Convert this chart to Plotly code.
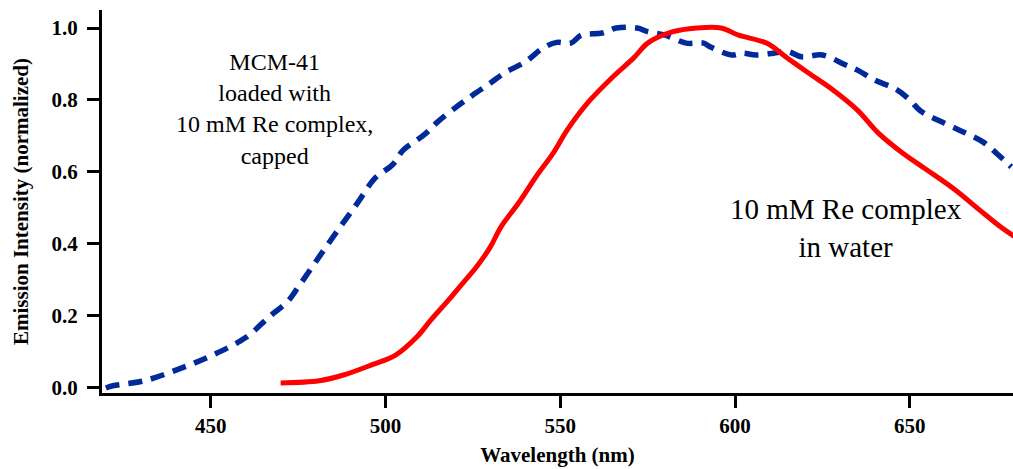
import plotly.graph_objects as go

# MCM-41 loaded with 10 mM Re complex, capped (blue, dashed)
mcm_x = [420, 422, 431, 441, 450, 460, 467, 472, 475, 481, 487, 492, 497, 502, 505, 511, 515, 521, 525, 530,
         534, 540, 545, 549, 553, 556, 562, 566, 572, 575, 580, 586, 591, 593, 599, 602, 606, 611, 615, 619,
         625, 631, 635, 640, 646, 650, 653, 660, 666, 671, 675, 679]
mcm_y = [0.0, 0.006, 0.02, 0.053, 0.089, 0.14, 0.2, 0.24, 0.28, 0.364, 0.447, 0.514, 0.583, 0.62, 0.66, 0.703,
         0.74, 0.786, 0.814, 0.847, 0.875, 0.906, 0.944, 0.96, 0.958, 0.98, 0.986, 1.0, 1.0, 0.99, 0.98, 0.958,
         0.958, 0.947, 0.925, 0.93, 0.925, 0.93, 0.935, 0.92, 0.925, 0.90, 0.883, 0.855, 0.83, 0.80, 0.77, 0.735,
         0.708, 0.683, 0.65, 0.614]

# 10 mM Re complex in water (red, solid)
water_x = [470, 481, 488, 496, 503, 509, 513, 518, 522, 526, 530, 533, 538, 543, 548, 552, 558, 565, 571, 575,
           582, 589, 596, 601, 609, 615, 621, 628, 635, 641, 648, 655, 663, 670, 676, 680]
water_y = [0.014, 0.02, 0.036, 0.064, 0.092, 0.142, 0.189, 0.244, 0.29, 0.336, 0.392, 0.447, 0.513, 0.586,
           0.653, 0.717, 0.794, 0.864, 0.917, 0.958, 0.989, 1.0, 1.0, 0.98, 0.958, 0.916, 0.875, 0.828, 0.772,
           0.708, 0.652, 0.605, 0.55, 0.494, 0.447, 0.42]

x_ticks = [450, 500, 550, 600, 650]
y_ticks = [0.0, 0.2, 0.4, 0.6, 0.8, 1.0]

FONT = "Liberation Serif"

fig = go.Figure()
fig.add_trace(go.Scatter(x=mcm_x, y=mcm_y, mode="lines", line_shape="spline",
                         line=dict(color="#00299a", width=5.5, dash="14px,9px"),
                         showlegend=False))
fig.add_trace(go.Scatter(x=water_x, y=water_y, mode="lines", line_shape="spline",
                         line=dict(color="#ff0000", width=5),
                         showlegend=False))

fig.add_annotation(x=468.3, y=0.775, xref="x", yref="y", showarrow=False,
                   text="MCM-41<br>loaded with<br>10 mM Re complex,<br>capped",
                   font=dict(family=FONT, size=24, color="black"), align="center")
fig.add_annotation(x=631.7, y=0.444, xref="x", yref="y", showarrow=False,
                   text="10 mM Re complex<br>in water",
                   font=dict(family=FONT, size=29, color="black"), align="center")

axis_common = dict(showline=True, linecolor="black", linewidth=3, ticks="outside",
                   ticklen=12, tickwidth=3, tickcolor="black", showgrid=False, zeroline=False,
                   tickfont=dict(family=FONT, size=21, color="black"))

fig.update_xaxes(range=[418.9, 679.5], tickvals=x_ticks, ticktext=["<b>%d</b>" % v for v in x_ticks],
                 title=dict(text="<b>Wavelength (nm)</b>", font=dict(family=FONT, size=21, color="black"),
                            standoff=11),
                 **axis_common)
fig.update_yaxes(range=[-0.014, 1.05], tickvals=y_ticks, ticktext=["<b>%.1f</b>" % v for v in y_ticks],
                 ticklabelstandoff=5,
                 title=dict(text="<b>Emission Intensity (normalized)</b>",
                            font=dict(family=FONT, size=21, color="black"), standoff=18),
                 **axis_common)

fig.update_layout(width=1013, height=469, margin=dict(l=102, r=0, t=10, b=76),
                  plot_bgcolor="white", paper_bgcolor="white")

fig.write_html("out.html", config={"displayModeBar": False},
               post_script="document.body.style.margin='0';document.body.style.overflow='hidden';")
